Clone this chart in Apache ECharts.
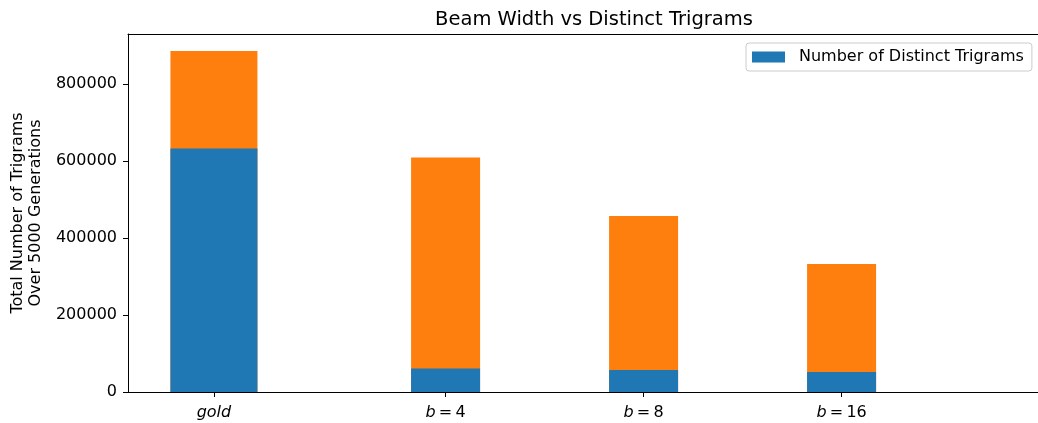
<!DOCTYPE html>
<html>
<head>
<meta charset="utf-8">
<script src="https://cdn.jsdelivr.net/npm/echarts@6/dist/echarts.min.js"></script>
<style>
html,body{margin:0;padding:0;background:#fff;}
#chart{width:1038px;height:423px;}
</style>
</head>
<body>
<div id="chart"></div>
<script>
// ---- data ----
const categories = ['gold', 'b=4', 'b=8', 'b=16'];
const xPositions = [0, 1.17, 2.17, 3.17];
const totalTrigrams = [885000, 609000, 457000, 332000];
const distinctTrigrams = [632000, 61000, 57000, 52000];
const yTicks = [0, 200000, 400000, 600000, 800000];

const FONT = 'DejaVu Sans';
const FS = 16;
const pairs = (vals, from, to) => xPositions.slice(from, to).map((x, i) => [x, vals[from + i]]);

function labelFor(v) {
  let best = 0;
  xPositions.forEach((x, i) => { if (Math.abs(x - v) < Math.abs(xPositions[best] - v)) best = i; });
  const c = categories[best];
  if (c.indexOf('=') >= 0) {
    const parts = c.split('=');
    return '{it|' + parts[0] + '}{n|\u2009=\u2009' + parts[1] + '}';
  }
  return '{it|' + c + '}';
}

const chart = echarts.init(document.getElementById('chart'), null, {renderer: 'canvas'});
const xMin = -0.434, xMax = 4.162;

chart.setOption({
  animation: false,
  backgroundColor: '#ffffff',
  textStyle: {fontFamily: FONT},
  title: {
    text: 'Beam Width vs Distinct Trigrams',
    left: 589, top: 5, textAlign: 'center',
    textStyle: {fontFamily: FONT, fontSize: 19.5, fontWeight: 'normal', color: '#000'}
  },
  legend: {
    data: ['Number of Distinct Trigrams'],
    left: 746, top: 43,
    icon: 'rect',
    itemWidth: 33, itemHeight: 11,
    padding: [6, 8, 6, 6],
    borderColor: '#cccccc', borderWidth: 1, borderRadius: 3,
    textStyle: {fontFamily: FONT, fontSize: FS, color: '#000', padding: [0, 0, 0, 9]}
  },
  grid: {left: 128, right: 0, top: 34, bottom: 31},
  xAxis: [
    {
      type: 'value', min: xMin, max: xMax, position: 'bottom',
      splitLine: {show: false},
      axisLine: {show: true, onZero: false, lineStyle: {color: '#000', width: 1}},
      axisTick: {show: true, customValues: xPositions, length: 5, lineStyle: {color: '#000'}},
      axisLabel: {
        show: true, customValues: xPositions, margin: 13,
        formatter: labelFor,
        rich: {
          it: {fontFamily: FONT, fontSize: FS, fontStyle: 'italic', color: '#000'},
          n: {fontFamily: FONT, fontSize: FS, color: '#000'}
        }
      }
    },
    {
      type: 'value', min: xMin, max: xMax, position: 'top',
      splitLine: {show: false},
      axisLine: {show: true, onZero: false, lineStyle: {color: '#000', width: 1}},
      axisTick: {show: false},
      axisLabel: {show: false}
    }
  ],
  yAxis: {
    type: 'value', min: 0, max: 929250, interval: 200000,
    name: 'Total Number of Trigrams\nOver 5000 Generations',
    nameLocation: 'middle', nameGap: 80, nameRotate: 90,
    nameTextStyle: {fontFamily: FONT, fontSize: FS, color: '#000', lineHeight: 18, align: 'center'},
    splitLine: {show: false},
    axisLine: {show: true, onZero: false, lineStyle: {color: '#000', width: 1}},
    axisTick: {show: true, length: 5, customValues: yTicks, lineStyle: {color: '#000'}},
    axisLabel: {
      fontFamily: FONT, fontSize: FS, color: '#000', margin: 11,
      customValues: yTicks,
      formatter: v => String(v)
    }
  },
  series: [
    {
      name: 'Total Number of Trigrams', type: 'bar', xAxisIndex: 0,
      data: pairs(totalTrigrams, 1, 4), barWidth: 69, barGap: '-100%',
      itemStyle: {color: '#ff7f0e'}
    },
    {
      name: 'Number of Distinct Trigrams', type: 'bar', xAxisIndex: 0,
      data: pairs(distinctTrigrams, 1, 4), barWidth: 69, barGap: '-100%',
      itemStyle: {color: '#1f77b4'}
    },
    {
      name: 'Total Number of Trigrams', type: 'bar', xAxisIndex: 1,
      data: pairs(totalTrigrams, 0, 1), barWidth: 87, barGap: '-100%',
      itemStyle: {color: '#ff7f0e'}
    },
    {
      name: 'Number of Distinct Trigrams', type: 'bar', xAxisIndex: 1,
      data: pairs(distinctTrigrams, 0, 1), barWidth: 87, barGap: '-100%',
      itemStyle: {color: '#1f77b4'}
    }
  ]
});
</script>
</body>
</html>
